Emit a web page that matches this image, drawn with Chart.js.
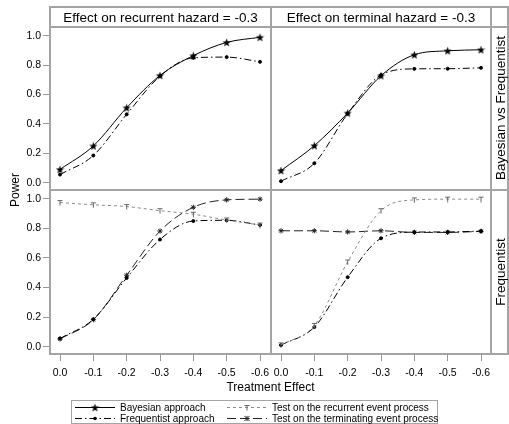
<!DOCTYPE html>
<html lang="en">
<head>
<meta charset="UTF-8" />
<title>Power by treatment effect</title>
<script src="https://cdn.jsdelivr.net/npm/chart.js"></script>
<style>
  * { margin: 0; padding: 0; box-sizing: border-box; }
  body {
    width: 509px; height: 424px; overflow: hidden; position: relative;
    background: #fff; color: #000;
    font-family: 'Liberation Sans', Arial, sans-serif;
  }
  canvas.panel { position: absolute; left: 0; top: 0; }
  .hline, .vline { position: absolute; background: #a4a4a4; }
  .hline { height: 2px; }
  .vline { width: 2px; }
  .strip {
    position: absolute; font-size: 13.5px; white-space: nowrap;
    display: flex; align-items: center; justify-content: center;
  }
  .rot {
    position: absolute; white-space: nowrap;
    transform: translate(-50%, -50%) rotate(-90deg);
  }
  .legend {
    position: absolute; left: 71px; top: 400px; width: 367px; height: 24px;
    border: 1px solid #a4a4a4; font-size: 10px;
  }
  .legend .item { position: absolute; display: flex; align-items: center; height: 12px; white-space: nowrap; }
  .legend canvas { margin-right: 5px; }
</style>
</head>
<body>

<canvas class="panel" id="pTL" width="509" height="424"></canvas>
<canvas class="panel" id="pTR" width="509" height="424"></canvas>
<canvas class="panel" id="pBL" width="509" height="424"></canvas>
<canvas class="panel" id="pBR" width="509" height="424"></canvas>

<!-- facet frame -->
<div class="hline" style="left:50px; top:6px; width:459px;"></div>
<div class="hline" style="left:50px; top:26px; width:459px;"></div>
<div class="hline" style="left:50px; top:189px; width:459px;"></div>
<div class="hline" style="left:50px; top:353px; width:459px;"></div>
<div class="vline" style="left:49px; top:6px; height:349px;"></div>
<div class="vline" style="left:270px; top:6px; height:349px;"></div>
<div class="vline" style="left:490px; top:6px; height:349px;"></div>
<div class="vline" style="left:507px; top:6px; height:349px;"></div>

<div class="strip" style="left:51px; top:8px; width:219px; height:18px;">Effect on recurrent hazard = -0.3</div>
<div class="strip" style="left:272px; top:8px; width:218px; height:18px;">Effect on terminal hazard = -0.3</div>
<div class="rot" style="left:500px; top:108px; font-size:13.5px;">Bayesian vs Frequentist</div>
<div class="rot" style="left:500px; top:272px; font-size:13.5px;">Frequentist</div>

<div class="rot" style="left:15px; top:190px; font-size:12px;">Power</div>
<div style="position:absolute; left:50px; width:441px; top:380px; text-align:center; font-size:12px;">Treatment Effect</div>

<div class="legend" id="legend"></div>

<script>
// treatment effect on the x axis
const effects = [0, -0.1, -0.2, -0.3, -0.4, -0.5, -0.6];
const xTicks = [0, -0.1, -0.2, -0.3, -0.4, -0.5, -0.6];
const yTicks = [0, 0.2, 0.4, 0.6, 0.8, 1.0];

// column 1: effect on recurrent hazard = -0.3
const bayesRec = [0.09, 0.25, 0.51, 0.73, 0.865, 0.955, 0.99];
const freqRec = [0.055, 0.185, 0.465, 0.725, 0.85, 0.855, 0.823];
const testRecurrentRec = [0.975, 0.96, 0.948, 0.92, 0.896, 0.857, 0.823];
const testTerminalRec = [0.052, 0.182, 0.483, 0.782, 0.943, 0.993, 0.998];

// column 2: effect on terminal hazard = -0.3
const bayesTerm = [0.082, 0.252, 0.474, 0.728, 0.871, 0.898, 0.905];
const freqTerm = [0.01, 0.132, 0.47, 0.733, 0.775, 0.776, 0.782];
const testRecurrentTerm = [0.012, 0.143, 0.573, 0.92, 0.993, 0.998, 0.998];
const testTerminalTerm = [0.784, 0.784, 0.776, 0.784, 0.773, 0.773, 0.78];

function starMarker() {
  const c = document.createElement('canvas');
  c.width = c.height = 9;
  const g = c.getContext('2d');
  g.beginPath();
  for (let k = 0; k < 10; k++) {
    const a = -Math.PI / 2 + k * Math.PI / 5;
    const r = k % 2 ? 1.8 : 4.3;
    g.lineTo(4.5 + r * Math.cos(a), 4.9 + r * Math.sin(a));
  }
  g.closePath();
  g.fillStyle = '#000';
  g.fill();
  return c;
}

function teeMarker() {
  const c = document.createElement('canvas');
  c.width = c.height = 7;
  const g = c.getContext('2d');
  g.strokeStyle = '#666';
  g.lineWidth = 1;
  g.beginPath();
  g.moveTo(1, 1.5); g.lineTo(6, 1.5);
  g.moveTo(3.5, 1.5); g.lineTo(3.5, 6.5);
  g.stroke();
  return c;
}

const STAR = starMarker();
const TEE = teeMarker();

const styles = {
  bayes: { label: 'Bayesian approach', borderColor: '#000', borderDash: [], pointStyle: STAR, pointRadius: 4, pointBackgroundColor: '#000' },
  freq: { label: 'Frequentist approach', borderColor: '#000', borderDash: [7, 3, 1.5, 3], pointStyle: 'circle', pointRadius: 1.5, pointBackgroundColor: '#000' },
  testRec: { label: 'Test on the recurrent event process', borderColor: '#8a8a8a', borderDash: [3, 3], pointStyle: TEE, pointRadius: 3.5, pointBackgroundColor: '#666' },
  testTerm: { label: 'Test on the terminating event process', borderColor: '#222', borderDash: [9, 4], pointStyle: 'star', pointRadius: 2.6, pointBackgroundColor: '#222' }
};

function series(kind, values) {
  const s = styles[kind];
  return {
    label: s.label,
    data: effects.map((e, i) => ({ x: e, y: values[i] })),
    borderColor: s.borderColor,
    borderWidth: 1,
    borderDash: s.borderDash,
    pointStyle: s.pointStyle,
    pointRadius: s.pointRadius,
    pointBorderColor: s.pointBackgroundColor,
    pointBackgroundColor: s.pointBackgroundColor,
    pointBorderWidth: 1,
    cubicInterpolationMode: 'monotone',
    fill: false
  };
}

const tickFont = { family: "'Liberation Sans', Arial, sans-serif", size: 10.5 };

function makePanel(id, pad, showY, showX, datasets) {
  new Chart(document.getElementById(id), {
    type: 'line',
    data: { datasets: datasets },
    options: {
      responsive: false,
      animation: false,
      events: [],
      layout: { padding: pad },
      plugins: { legend: { display: false }, tooltip: { enabled: false } },
      scales: {
        x: {
          type: 'linear', reverse: true, min: -0.63, max: 0.03,
          display: showX,
          afterBuildTicks: s => { s.ticks = xTicks.map(v => ({ value: v })); },
          afterFit: s => { s.height = showX ? 30 : 0; },
          grid: { drawOnChartArea: false, drawTicks: true, tickLength: 7, color: '#999' },
          border: { display: false },
          ticks: { color: '#000', font: tickFont, padding: 6, maxRotation: 0, callback: v => v.toFixed(1) }
        },
        y: {
          type: 'linear', min: -0.05, max: 1.06,
          display: showY,
          afterBuildTicks: s => { s.ticks = yTicks.map(v => ({ value: v })); },
          afterFit: s => { s.width = showY ? 50 : 0; },
          grid: { drawOnChartArea: false, drawTicks: true, tickLength: 7, color: '#999' },
          border: { display: false },
          ticks: { color: '#000', font: tickFont, padding: 2, callback: v => v.toFixed(1) }
        }
      }
    }
  });
}

makePanel('pTL', { left: 0, top: 27, right: 239, bottom: 234 }, true, false,
  [series('freq', freqRec), series('bayes', bayesRec)]);
makePanel('pTR', { left: 271, top: 27, right: 18, bottom: 234 }, false, false,
  [series('freq', freqTerm), series('bayes', bayesTerm)]);
makePanel('pBL', { left: 0, top: 190, right: 239, bottom: 40 }, true, true,
  [series('testRec', testRecurrentRec), series('freq', freqRec), series('testTerm', testTerminalRec)]);
makePanel('pBR', { left: 271, top: 190, right: 18, bottom: 40 }, false, true,
  [series('testRec', testRecurrentTerm), series('freq', freqTerm), series('testTerm', testTerminalTerm)]);

// legend: line sample + marker, drawn in small canvases
function legendItem(kind, left, top) {
  const s = styles[kind];
  const item = document.createElement('div');
  item.className = 'item';
  item.style.left = left + 'px';
  item.style.top = top + 'px';
  const c = document.createElement('canvas');
  c.width = 40; c.height = 12;
  const g = c.getContext('2d');
  g.strokeStyle = s.borderColor;
  g.lineWidth = 1;
  g.setLineDash(s.borderDash);
  g.beginPath(); g.moveTo(0, 6.5); g.lineTo(40, 6.5); g.stroke();
  g.setLineDash([]);
  if (s.pointStyle instanceof HTMLCanvasElement) {
    g.drawImage(s.pointStyle, 20 - s.pointStyle.width / 2, 6.5 - s.pointStyle.height / 2);
  } else if (s.pointStyle === 'circle') {
    g.fillStyle = '#000'; g.beginPath(); g.arc(20, 6.5, 1.8, 0, Math.PI * 2); g.fill();
  } else {
    g.strokeStyle = s.pointBackgroundColor; g.beginPath();
    const r = 2.6;
    g.moveTo(20 - r, 6.5 - r); g.lineTo(20 + r, 6.5 + r);
    g.moveTo(20 + r, 6.5 - r); g.lineTo(20 - r, 6.5 + r);
    g.moveTo(20, 6.5 - r); g.lineTo(20, 6.5 + r);
    g.moveTo(20 - r, 6.5); g.lineTo(20 + r, 6.5);
    g.stroke();
  }
  item.appendChild(c);
  const t = document.createElement('span');
  t.textContent = s.label;
  item.appendChild(t);
  document.getElementById('legend').appendChild(item);
}

legendItem('bayes', 3, 0);
legendItem('freq', 3, 11);
legendItem('testRec', 155, 0);
legendItem('testTerm', 155, 11);
</script>
</body>
</html>
